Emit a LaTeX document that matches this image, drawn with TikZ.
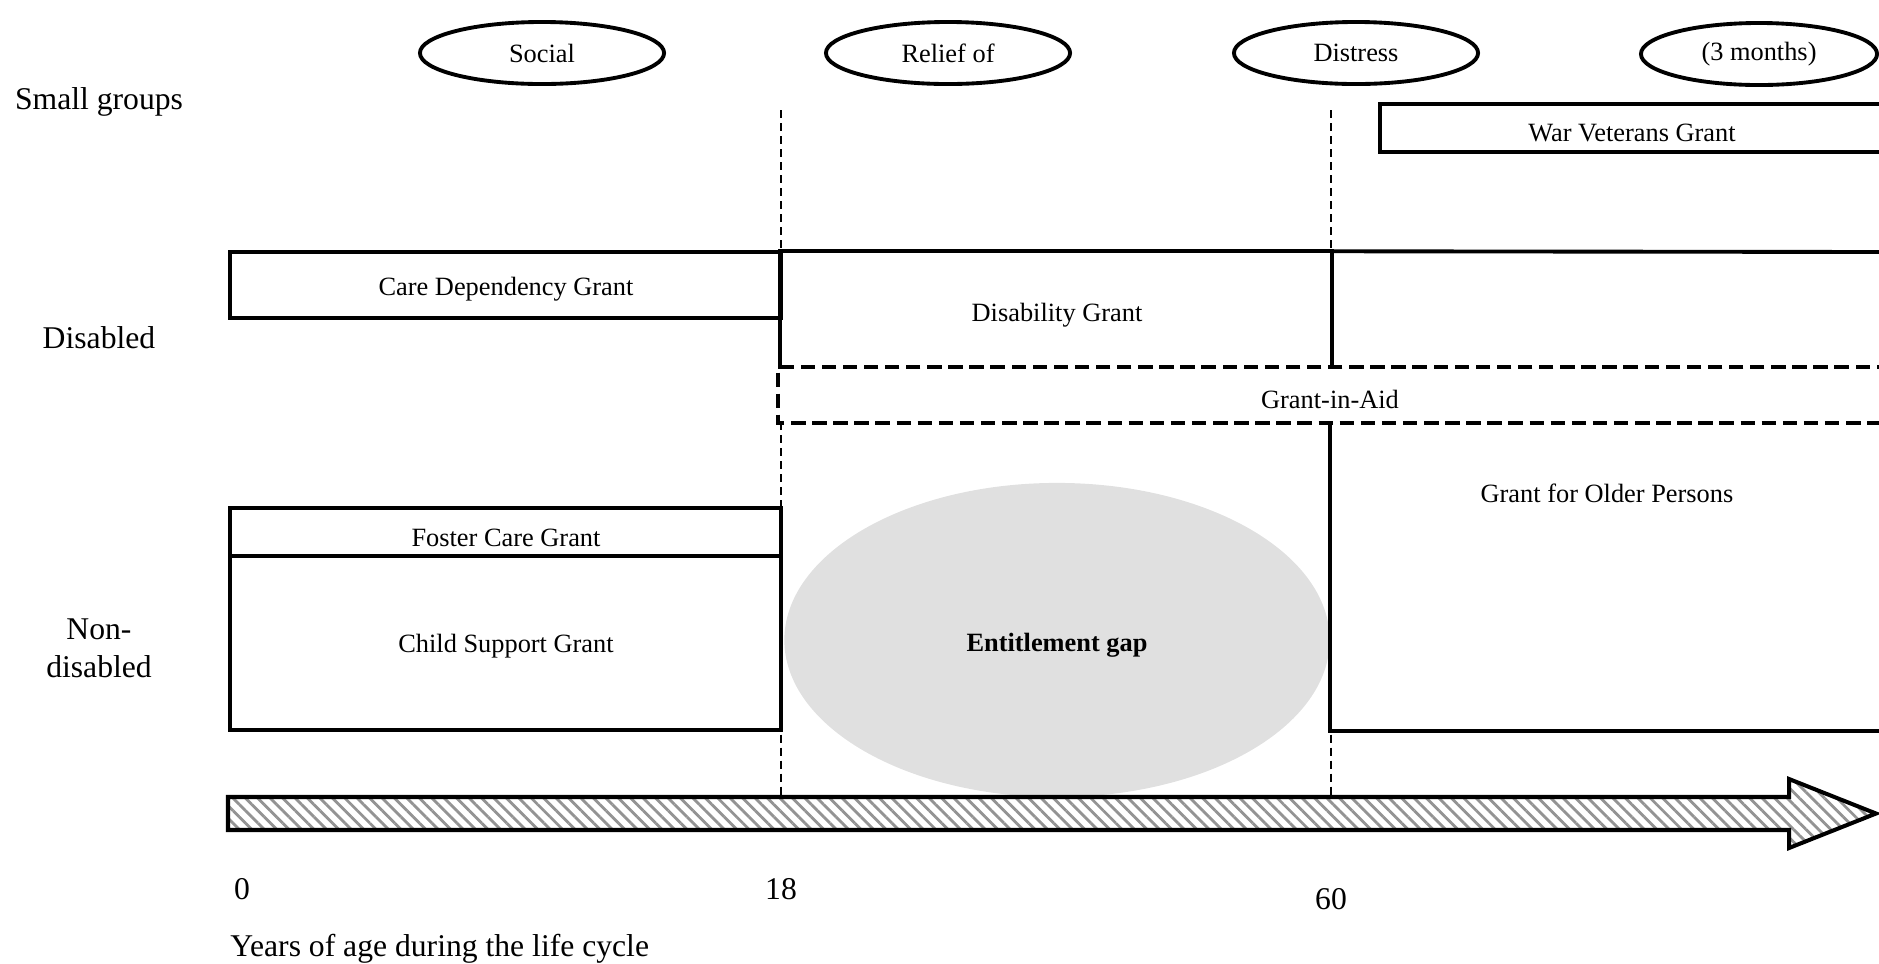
\documentclass[tikz,border=0pt]{standalone}
\usepackage{fontspec}
\setmainfont{Liberation Serif}
\usetikzlibrary{shapes.geometric,patterns.meta}
\definecolor{gapgray}{RGB}{224,224,224}
\begin{document}
\begin{tikzpicture}[x=0.01cm,y=-0.01cm,
  boxtxt/.style={font=\fontsize{7.5}{9}\selectfont},
  sidelbl/.style={font=\fontsize{9}{10.8}\selectfont,align=center},
  gbox/.style={draw,line width=1.1pt,inner sep=0pt},
  nobox/.style={inner sep=0pt},
  topell/.style={ellipse,draw,line width=1.1pt,inner sep=0pt,minimum width=2.44cm,minimum height=0.62cm,boxtxt},
  ageline/.style={line width=0.45pt,dash pattern=on 2.3pt off 1.4pt},
  aidline/.style={line width=1.15pt,dash pattern=on 4.1pt off 1.9pt},
  solidline/.style={line width=1.1pt}]
\useasboundingbox (0,0) rectangle (1879,963);
\clip (0,0) rectangle (1879,963);

% age separators
\coordinate (a18t) at (781,110);
\coordinate (a18b) at (781,797);
\coordinate (a60t) at (1331,110);
\coordinate (a60b) at (1331,797);
\draw[ageline] (a18t) -- (a18b);
\draw[ageline] (a60t) -- (a60b);

% top ellipses
\node[topell] (social) at (542,53) {Social};
\node[topell] (relief) at (948,53) {Relief of};
\node[topell] (distress) at (1356,53) {Distress};
\node[topell,minimum width=2.36cm] (months) at (1759,54) {(3 months)};

% side labels
\node[sidelbl] (small) at (99,102) {Small groups};
\node[sidelbl] (disabled) at (99,338) {Disabled};
\node[sidelbl] (nondis) at (99,648) {Non-\\disabled};

% entitlement gap
\node[ellipse,fill=gapgray,inner sep=0pt,minimum width=5.45cm,minimum height=3.14cm] (gap) at (1057,640) {};
\node[font=\fontsize{7.5}{9}\selectfont\bfseries] (gaptxt) at (1057,645) {Entitlement gap};

% boxes
\node[gbox,minimum width=5.10cm,minimum height=0.48cm] (war) at (1635,128) {};
\node[boxtxt] (wartxt) at (1632,133) {War Veterans Grant};
\node[gbox,minimum width=5.51cm,minimum height=0.66cm] (care) at (505.5,285) {};
\node[boxtxt] (caretxt) at (506,289) {Care Dependency Grant};
\node[nobox,minimum width=5.51cm,minimum height=1.16cm] (dis) at (1056,310) {};
\node[boxtxt] (distxt) at (1057,315) {Disability Grant};
\coordinate (disr) at (1890,252);
\draw[solidline] (dis.south west) -- (dis.north west) -- (dis.north east) -- (dis.south east);
\draw[solidline] (dis.north east) -- (disr);
\node[nobox,fill=white,minimum width=11.11cm,minimum height=0.54cm] (aid) at (1334.5,395) {};
\draw[aidline] (aid.north east) -- (aid.north west) -- (aid.south west) -- (aid.south east);
\node[boxtxt] (aidtxt) at (1330,399) {Grant-in-Aid};
\node[nobox,minimum width=5.59cm,minimum height=3.08cm] (gop) at (1610.5,576) {};
\draw[solidline] (gop.north west) -- (gop.south west) -- (gop.south east);
\node[boxtxt] (goptxt) at (1607,493) {Grant for Older Persons};
\node[gbox,minimum width=5.51cm,minimum height=0.48cm] (foster) at (505.5,532) {};
\node[boxtxt] (fostertxt) at (506,538) {Foster Care Grant};
\node[gbox,minimum width=5.51cm,minimum height=1.74cm] (child) at (505.5,643) {};
\node[boxtxt] (childtxt) at (506,646) {Child Support Grant};

% life-cycle arrow
\coordinate (ar1) at (228,797);
\coordinate (ar2) at (1789,797);
\coordinate (ar3) at (1789,779);
\coordinate (ar4) at (1876,813.5);
\coordinate (ar5) at (1789,848);
\coordinate (ar6) at (1789,830);
\coordinate (ar7) at (228,830);
\draw[line width=1.15pt,line join=miter,pattern={Lines[angle=-45,distance=2.5pt,line width=0.8pt]},pattern color=gray!85]
  (ar1) -- (ar2) -- (ar3) -- (ar4) -- (ar5) -- (ar6) -- (ar7) -- cycle;

% axis labels
\node[sidelbl] (l0) at (242,889) {0};
\node[sidelbl] (l18) at (781,889) {18};
\node[sidelbl] (l60) at (1331,899) {60};
\node[sidelbl,anchor=west] (axis) at (218,949) {Years of age during the life cycle};
\end{tikzpicture}
\end{document}
